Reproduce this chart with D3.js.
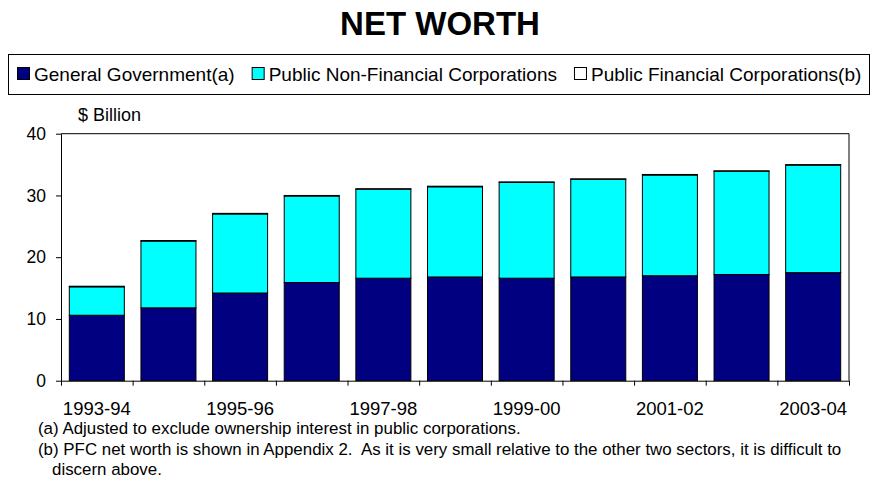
<!DOCTYPE html>
<html>
<head>
<meta charset="utf-8">
<script src="https://cdn.jsdelivr.net/npm/d3@7"></script>
<style>
  html, body { margin: 0; padding: 0; background: #fff; }
  svg { display: block; font-family: "Liberation Sans", Arial, sans-serif; }
  .note { white-space: pre; }
</style>
</head>
<body>
<svg id="chart" width="870" height="479"></svg>
<script>
// Net worth by sector, $ billion
const categories = ["1993-94", "1994-95", "1995-96", "1996-97", "1997-98", "1998-99",
                    "1999-00", "2000-01", "2001-02", "2002-03", "2003-04"];
const generalGovernment = [10.6, 11.8, 14.2, 15.9, 16.6, 16.8, 16.6, 16.8, 17.0, 17.2, 17.5];
const publicNonFinancial = [4.6, 10.8, 12.8, 14.0, 14.4, 14.6, 15.5, 15.8, 16.3, 16.7, 17.4];
const publicFinancial = [0.1, 0.1, 0.1, 0.1, 0.1, 0.1, 0.1, 0.1, 0.1, 0.1, 0.1];
const seriesNames = ["General Government(a)", "Public Non-Financial Corporations",
                     "Public Financial Corporations(b)"];
const yTicks = [0, 10, 20, 30, 40];
const xLabels = ["1993-94", "1995-96", "1997-98", "1999-00", "2001-02", "2003-04"];
const footnotes = [
  "(a) Adjusted to exclude ownership interest in public corporations.",
  "(b) PFC net worth is shown in Appendix 2.  As it is very small relative to the other two sectors, it is difficult to",
  "discern above."
];

const colors = ["#000080", "#00FFFF", "#FFFFFF"];
const svg = d3.select("#chart");

const plot = { left: 61, right: 849, top: 133.7, bottom: 380.7 };

// Title
svg.append("text")
  .attr("x", 440).attr("y", 35)
  .attr("text-anchor", "middle")
  .attr("font-size", 33).attr("font-weight", "bold")
  .text("NET WORTH");

// Legend frame and entries
svg.append("rect")
  .attr("x", 8.5).attr("y", 54.5).attr("width", 861).attr("height", 40)
  .attr("fill", "none").attr("stroke", "#000").attr("stroke-width", 1);

let lx = 17;
seriesNames.forEach((name, i) => {
  svg.append("rect")
    .attr("x", lx + 0.5).attr("y", 67.5).attr("width", 12).attr("height", 12)
    .attr("fill", colors[i]).attr("stroke", "#000").attr("stroke-width", 1);
  const t = svg.append("text")
    .attr("x", lx + 17).attr("y", 80.5)
    .attr("font-size", 19)
    .text(name);
  lx = lx + 17 + t.node().getComputedTextLength() + 17;
});

// Scales
const x = d3.scaleBand()
  .domain(categories)
  .range([plot.left, plot.right])
  .paddingInner(0.232)
  .paddingOuter(0.116);

const xEdges = d3.scaleLinear()
  .domain([0, categories.length])
  .range([plot.left, plot.right]);

const y = d3.scaleLinear()
  .domain([0, 40])
  .range([plot.bottom, plot.top]);

// Stacked bars
const rows = categories.map((c, i) => ({
  cat: c,
  gg: generalGovernment[i],
  pnfc: publicNonFinancial[i],
  pfc: publicFinancial[i]
}));
const stack = d3.stack().keys(["gg", "pnfc", "pfc"])(rows);

svg.append("g")
  .selectAll("g")
  .data(stack)
  .join("g")
  .attr("fill", (d, i) => colors[i])
  .selectAll("rect")
  .data(d => d)
  .join("rect")
  .attr("x", d => x(d.data.cat))
  .attr("y", d => y(d[1]))
  .attr("width", x.bandwidth())
  .attr("height", d => y(d[0]) - y(d[1]))
  .attr("stroke", "#000")
  .attr("stroke-width", 1);

// Plot area frame (top and right edges)
svg.append("path")
  .attr("d", `M${plot.left},${plot.top}H${plot.right}V${plot.bottom}`)
  .attr("fill", "none").attr("stroke", "#000").attr("stroke-width", 1);

// Y axis
const yAxis = svg.append("g")
  .attr("transform", `translate(${plot.left},0)`)
  .call(d3.axisLeft(y).tickValues(yTicks).tickSize(5).tickPadding(10).tickSizeOuter(0));
yAxis.selectAll("text").attr("font-size", 17.5).attr("fill", "#000").attr("font-family", null);
yAxis.selectAll("line, path").attr("stroke", "#000");

// X axis: tick marks at category boundaries
const xTickAxis = svg.append("g")
  .attr("transform", `translate(0,${plot.bottom})`)
  .call(d3.axisBottom(xEdges).tickValues(d3.range(categories.length + 1))
    .tickFormat("").tickSize(5).tickSizeOuter(0));
xTickAxis.selectAll("line, path").attr("stroke", "#000");

// X axis labels at every other category
const xLabelAxis = svg.append("g")
  .attr("transform", `translate(0,${plot.bottom})`)
  .call(d3.axisBottom(x).tickValues(xLabels).tickSize(0).tickPadding(21.5));
xLabelAxis.select(".domain").remove();
xLabelAxis.selectAll("text").attr("font-size", 18.5).attr("fill", "#000").attr("font-family", null);

// Units label
svg.append("text")
  .attr("x", 78).attr("y", 121)
  .attr("font-size", 18)
  .text("$ Billion");

// Footnotes
const footX = [38, 38, 52];
const footY = [434, 455, 475];
footnotes.forEach((f, i) => {
  svg.append("text")
    .attr("class", "note")
    .attr("x", footX[i]).attr("y", footY[i])
    .attr("font-size", 16.9)
    .text(f);
});
</script>
</body>
</html>
